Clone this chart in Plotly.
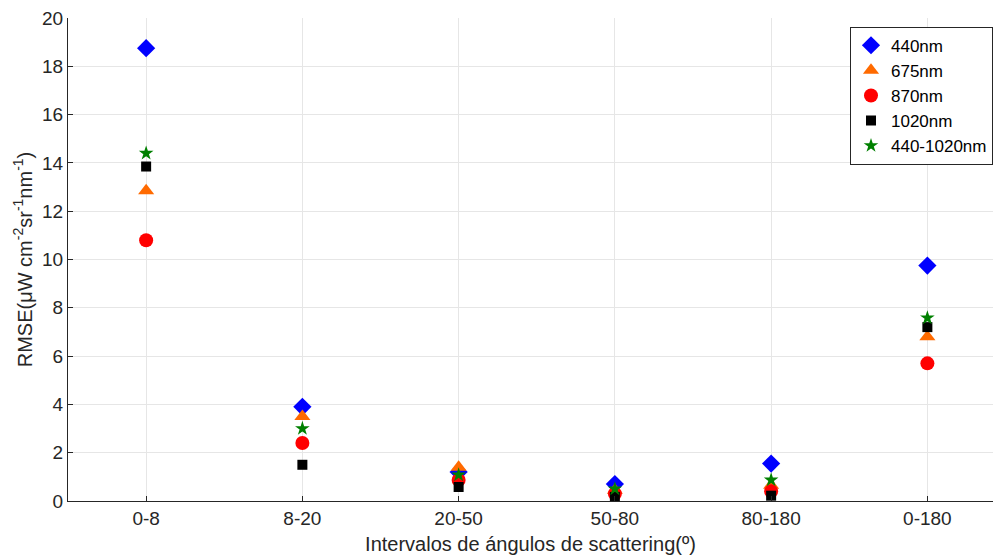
import plotly.graph_objects as go

categories = ["0-8", "8-20", "20-50", "50-80", "80-180", "0-180"]
rmse_440 = [18.75, 3.9, 1.2, 0.7, 1.55, 9.75]
rmse_675 = [12.85, 3.5, 1.4, 0.45, 0.65, 6.8]
rmse_870 = [10.8, 2.4, 0.87, 0.3, 0.4, 5.7]
rmse_1020 = [13.85, 1.5, 0.58, 0.17, 0.22, 7.2]
rmse_all = [14.4, 3.0, 1.08, 0.5, 0.87, 7.58]
y_ticks = [0, 2, 4, 6, 8, 10, 12, 14, 16, 18, 20]

xpos = list(range(len(categories)))

series = [
    ("440nm", rmse_440, "diamond", "#0000FF", 14),
    ("675nm", rmse_675, "triangle-up", "#FF6A00", 14),
    ("870nm", rmse_870, "circle", "#FF0000", 14),
    ("1020nm", rmse_1020, "square", "#000000", 10),
    ("440-1020nm", rmse_all, "star", "#008000", 11),
]

fig = go.Figure()
for name, vals, sym, col, size in series:
    fig.add_trace(go.Scatter(
        x=xpos, y=vals, mode="markers", name=name,
        marker=dict(symbol=sym, color=col, size=size, line=dict(width=0)),
    ))

axis_font = dict(family="Liberation Sans, Arial, sans-serif", size=19, color="#262626")

fig.update_layout(
    width=993, height=558,
    margin=dict(l=68, r=0, t=18, b=57),
    paper_bgcolor="white", plot_bgcolor="white",
    font=dict(family="Liberation Sans, Arial, sans-serif", size=19, color="#262626"),
    xaxis=dict(
        range=[-0.5, 5.42], tickmode="array", tickvals=xpos, ticktext=categories,
        showgrid=True, gridcolor="#E6E6E6", gridwidth=1,
        showline=True, linecolor="#262626", linewidth=1,
        ticks="inside", ticklen=5, tickcolor="#262626",
        tickfont=axis_font, zeroline=False, automargin=False,
        title=dict(text="Intervalos de ángulos de scattering(º)",
                   font=dict(size=20, color="#262626"), standoff=9),
    ),
    yaxis=dict(
        range=[0, 20], tickmode="array", tickvals=y_ticks,
        showgrid=True, gridcolor="#E6E6E6", gridwidth=1,
        showline=True, linecolor="#262626", linewidth=1,
        ticks="inside", ticklen=5, tickcolor="#262626",
        tickfont=axis_font, zeroline=False, automargin=False,
        title=dict(text="RMSE(μW cm<sup>-2</sup>sr<sup>-1</sup>nm<sup>-1</sup>)",
                   font=dict(size=20, color="#262626"), standoff=4),
    ),
    legend=dict(
        x=1.0, xanchor="right", y=0.982, yanchor="top",
        bgcolor="white", bordercolor="#262626", borderwidth=1,
        font=dict(size=17, color="#000000"),
        itemsizing="trace", tracegroupgap=0,
    ),
)

fig.write_html("out.html")
